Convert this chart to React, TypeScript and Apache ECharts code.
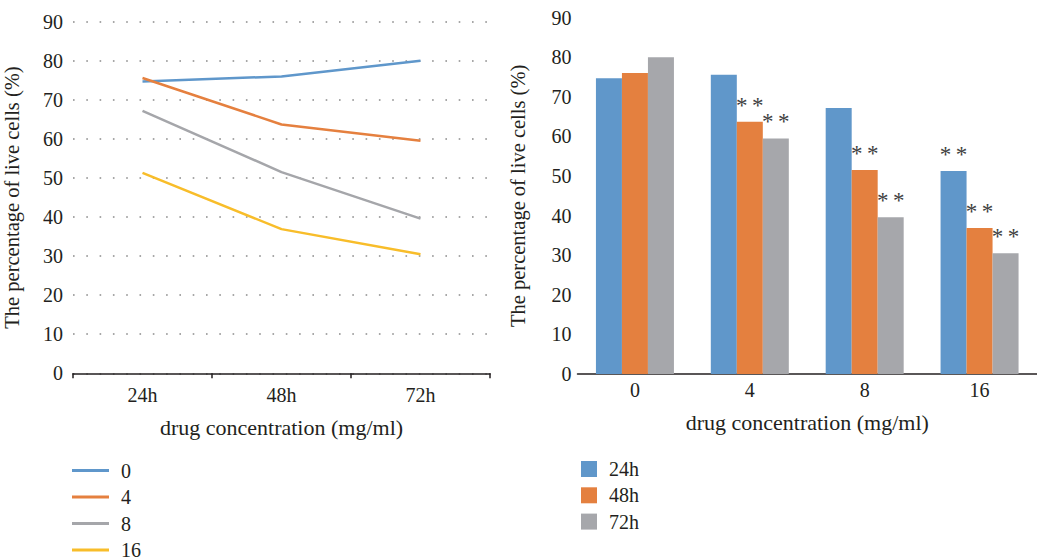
import React, { useEffect, useRef } from "react";
import * as echarts from "echarts";

const timePoints = ["24h", "48h", "72h"];
const concentrations = ["0", "4", "8", "16"];
// viability (%) per concentration, over 24h / 48h / 72h
const viability0 = [74.7, 76.0, 80.0];
const viability4 = [75.6, 63.7, 59.5];
const viability8 = [67.2, 51.5, 39.6];
const viability16 = [51.3, 36.9, 30.5];
// significance (** markers) per time point, over concentrations 0/4/8/16
const sig24h = [false, false, false, true];
const sig48h = [false, true, true, true];
const sig72h = [false, true, true, true];
const sigMark = "*\u2009*";

const yTicks = [0, 10, 20, 30, 40, 50, 60, 70, 80, 90];

const lineColors = ["#5F97CB", "#E5803F", "#A5A6AA", "#F8BD2A"];
const barColors = ["#6097CA", "#E4803F", "#A6A7AB"];

const FONT = "'Liberation Serif', 'DejaVu Serif', serif";
const TXT = "#231F20";

export default function App() {
  const ref = useRef<HTMLDivElement>(null);
  useEffect(() => {
    if (!ref.current) return;
    const chart = echarts.init(ref.current, undefined, { renderer: "svg" });
    const byConc = [viability0, viability4, viability8, viability16];
    const sigs = [sig24h, sig48h, sig72h];
    const textStyle = { fontFamily: FONT, fontSize: 20, color: TXT };
    const xNameStyle = { fontFamily: FONT, fontSize: 22, color: TXT };
    const yNameStyle = { fontFamily: FONT, fontSize: 20.5, color: TXT };

    const lineSeries = concentrations.map((c, i) => ({
      type: "line",
      name: c,
      xAxisIndex: 0,
      yAxisIndex: 0,
      data: byConc[i],
      symbol: "none",
      lineStyle: { color: lineColors[i], width: 2.5 },
      itemStyle: { color: lineColors[i] },
    }));

    const barSeries = timePoints.map((t, ti) => ({
      type: "bar",
      name: t,
      xAxisIndex: 1,
      yAxisIndex: 1,
      barWidth: 26,
      barGap: "0%",
      data: byConc.map((arr) => arr[ti]),
      itemStyle: { color: barColors[ti] },
      label: {
        show: true,
        position: "top",
        distance: 5,
        fontFamily: FONT,
        fontSize: 23,
        color: "#404040",
        formatter: (p: any) => (sigs[ti][p.dataIndex] ? sigMark : ""),
      },
    }));

    chart.setOption({
      animation: false,
      textStyle: { fontFamily: FONT },
      grid: [
        { left: 73, right: 547, top: 21.7, bottom: 186.7 },
        { left: 577.5, right: -4.5, top: 17.7, bottom: 186 },
      ],
      xAxis: [
        {
          gridIndex: 0,
          type: "category",
          data: timePoints,
          boundaryGap: true,
          axisLine: { lineStyle: { color: TXT, width: 1.5 } },
          axisTick: { show: true, length: 5, lineStyle: { color: TXT, width: 1.5 } },
          axisLabel: { ...textStyle, margin: 12 },
          name: "drug concentration (mg/ml)",
          nameLocation: "middle",
          nameGap: 43,
          nameTextStyle: { ...xNameStyle },
        },
        {
          gridIndex: 1,
          type: "category",
          data: concentrations,
          boundaryGap: true,
          axisLine: { lineStyle: { color: TXT, width: 1.5 } },
          axisTick: { show: false },
          axisLabel: { ...textStyle, margin: 6 },
          name: "drug concentration (mg/ml)",
          nameLocation: "middle",
          nameGap: 37,
          nameTextStyle: { ...xNameStyle },
        },
      ],
      yAxis: [
        {
          gridIndex: 0,
          type: "value",
          min: yTicks[0],
          max: yTicks[yTicks.length - 1],
          interval: 10,
          axisLine: { show: false },
          axisTick: { show: false },
          axisLabel: { ...textStyle, margin: 10 },
          splitLine: {
            show: true,
            lineStyle: { color: "#8a8a8a", width: 1.6, type: [1.6, 11.7] },
          },
          name: "The percentage of live cells (%)",
          nameLocation: "middle",
          nameGap: 51,
          nameTextStyle: { ...yNameStyle },
        },
        {
          gridIndex: 1,
          type: "value",
          min: yTicks[0],
          max: yTicks[yTicks.length - 1],
          interval: 10,
          axisLine: { show: false },
          axisTick: { show: false },
          axisLabel: { ...textStyle, margin: 6 },
          splitLine: { show: false },
          name: "The percentage of live cells (%)",
          nameLocation: "middle",
          nameGap: 49,
          nameTextStyle: { ...yNameStyle },
        },
      ],
      legend: [
        {
          data: concentrations,
          orient: "vertical",
          left: 72,
          top: 460.5,
          height: 110,
          padding: 0,
          icon: "rect",
          itemWidth: 37,
          itemHeight: 3,
          itemGap: 6.5,
          textStyle: { ...textStyle, lineHeight: 20, padding: [0, 0, 0, 7] },
        },
        {
          data: timePoints,
          orient: "vertical",
          left: 581,
          top: 459,
          padding: 0,
          icon: "rect",
          itemWidth: 16,
          itemHeight: 16,
          itemGap: 6.3,
          textStyle: { ...textStyle, lineHeight: 20, padding: [0, 0, 0, 7] },
        },
      ],
      series: [...lineSeries, ...barSeries],
    });
    return () => chart.dispose();
  }, []);
  return (
    <div
      ref={ref}
      style={{ position: "absolute", left: 0, top: 0, width: 1037, height: 560, background: "#fff" }}
    />
  );
}
